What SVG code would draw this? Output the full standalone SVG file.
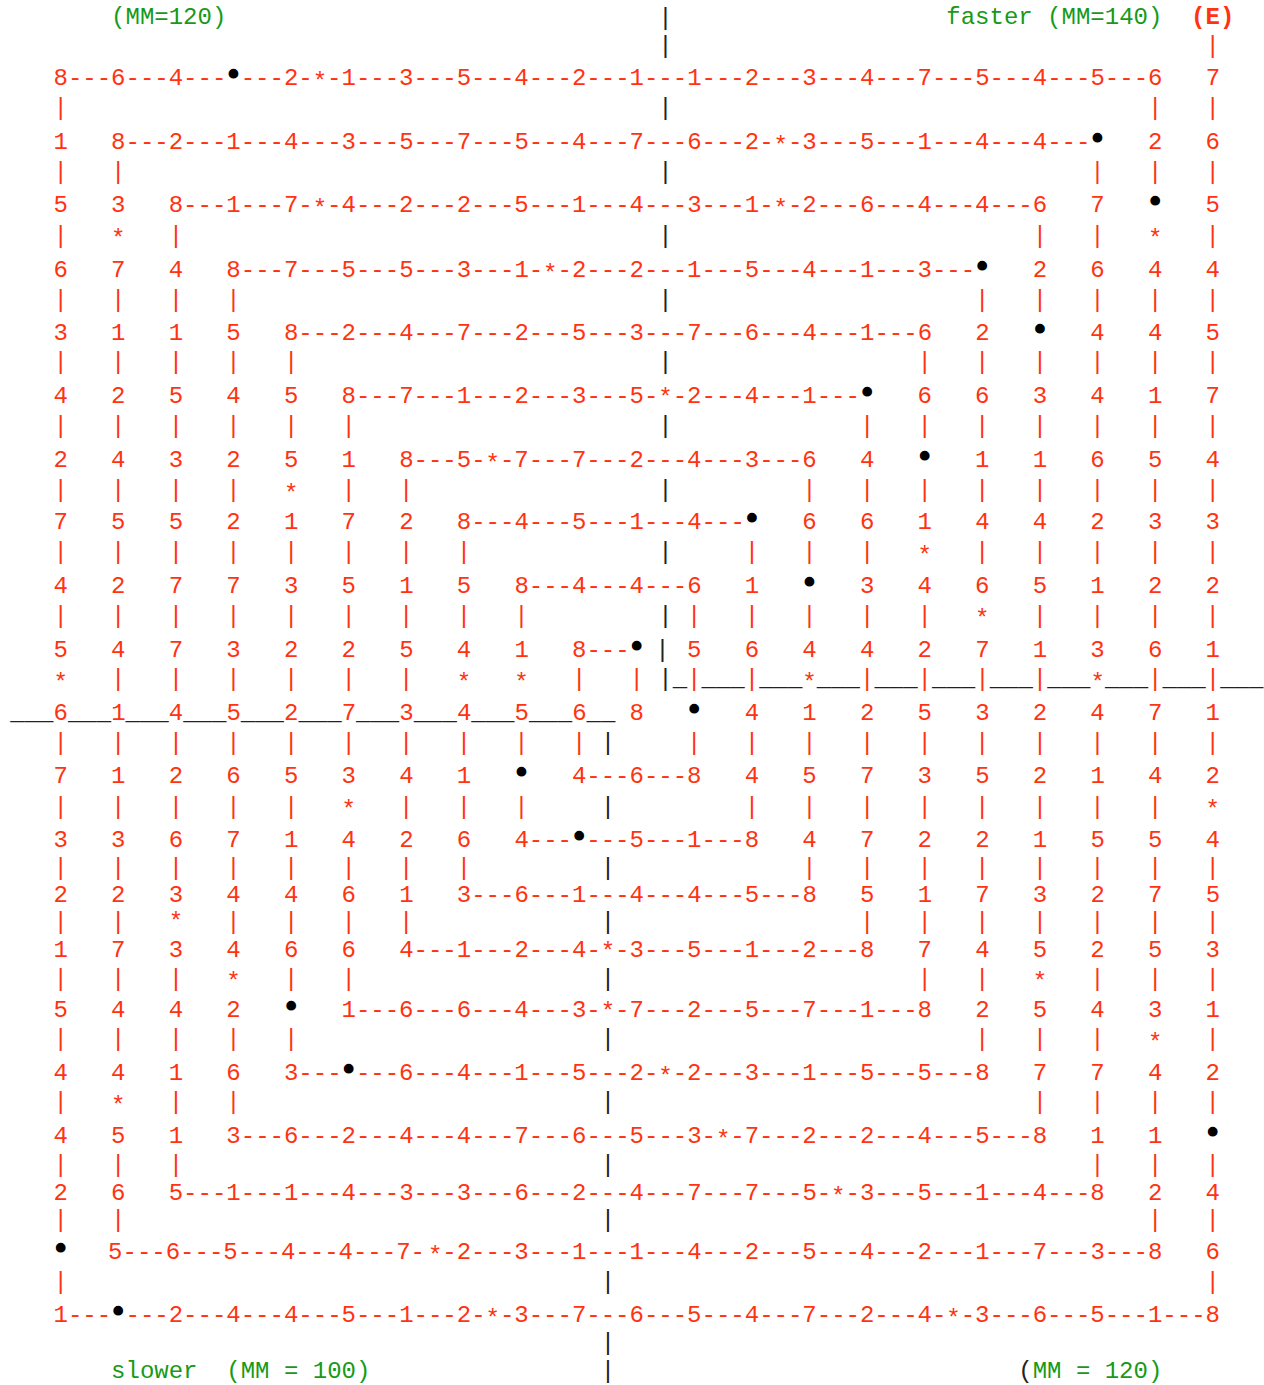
<svg xmlns="http://www.w3.org/2000/svg" width="1264" height="1385" viewBox="0 0 1264 1385">
<style>
.t{font-family:"Liberation Mono","Courier New",monospace;font-size:24px;white-space:pre}
.r{fill:#ff3311}
.k{fill:#222222}
.g{fill:#179a17}
.e{font-weight:bold}
.bu{fill:#000000;stroke:#000000;stroke-width:3.2;stroke-linejoin:round}
</style>
<rect width="1264" height="1385" fill="#ffffff"/>
<g id="header" xml:space="preserve">
<text class="t"><tspan class="g" x="111.1" y="24.3">(MM=120)</tspan><tspan class="k" x="658.3" y="25.3">|</tspan><tspan class="g" x="946.3" y="24.3">faster (MM=140)</tspan><tspan class="r e" x="1191.1" y="24.3">(E)</tspan></text>
</g>
<g id="spiral" xml:space="preserve">
<text class="t r"><tspan class="k" x="658.3" y="52.7">|</tspan><tspan x="1205.5" y="52.7">|</tspan></text>
<text class="t r"><tspan x="53.5" y="85">8---6---4---</tspan><tspan class="bu" x="226.3" y="82">•</tspan><tspan x="240.7" y="85">---2-</tspan><tspan x="312.7" y="89">*</tspan><tspan x="327.1" y="85">-1---3---5---4---2---1---1---2---3---4---7---5---4---5---6   7</tspan></text>
<text class="t r"><tspan x="53.5" y="115">|</tspan><tspan class="k" x="658.3" y="115">|</tspan><tspan x="1147.9 1205.5" y="115">||</tspan></text>
<text class="t r"><tspan x="53.5" y="149">1   8---2---1---4---3---5---7---5---4---7---6---2-</tspan><tspan x="773.5" y="153">*</tspan><tspan x="787.9" y="149">-3---5---1---4---4---</tspan><tspan class="bu" x="1090.3" y="146">•</tspan><tspan x="1147.9" y="149">2   6</tspan></text>
<text class="t r"><tspan x="53.5 111.1" y="178.7">||</tspan><tspan class="k" x="658.3" y="178.7">|</tspan><tspan x="1090.3 1147.9 1205.5" y="178.7">|||</tspan></text>
<text class="t r"><tspan x="53.5" y="212.3">5   3   8---1---7-</tspan><tspan x="312.7" y="216.3">*</tspan><tspan x="327.1" y="212.3">-4---2---2---5---1---4---3---1-</tspan><tspan x="773.5" y="216.3">*</tspan><tspan x="787.9" y="212.3">-2---6---4---4---6   7</tspan><tspan class="bu" x="1147.9" y="209.3">•</tspan><tspan x="1205.5" y="212.3">5</tspan></text>
<text class="t r"><tspan x="53.5" y="242.7">|</tspan><tspan x="111.1" y="246.2">*</tspan><tspan x="168.7" y="242.7">|</tspan><tspan class="k" x="658.3" y="242.7">|</tspan><tspan x="1032.7 1090.3" y="242.7">||</tspan><tspan x="1147.9" y="246.2">*</tspan><tspan x="1205.5" y="242.7">|</tspan></text>
<text class="t r"><tspan x="53.5" y="276.7">6   7   4   8---7---5---5---3---1-</tspan><tspan x="543.1" y="280.7">*</tspan><tspan x="557.5" y="276.7">-2---2---1---5---4---1---3---</tspan><tspan class="bu" x="975.1" y="273.7">•</tspan><tspan x="1032.7" y="276.7">2   6   4   4</tspan></text>
<text class="t r"><tspan x="53.5 111.1 168.7 226.3" y="306.7">||||</tspan><tspan class="k" x="658.3" y="306.7">|</tspan><tspan x="975.1 1032.7 1090.3 1147.9 1205.5" y="306.7">|||||</tspan></text>
<text class="t r"><tspan x="53.5" y="340">3   1   1   5   8---2---4---7---2---5---3---7---6---4---1---6   2</tspan><tspan class="bu" x="1032.7" y="337">•</tspan><tspan x="1090.3" y="340">4   4   5</tspan></text>
<text class="t r"><tspan x="53.5 111.1 168.7 226.3 283.9" y="369.3">|||||</tspan><tspan class="k" x="658.3" y="369.3">|</tspan><tspan x="917.5 975.1 1032.7 1090.3 1147.9 1205.5" y="369.3">||||||</tspan></text>
<text class="t r"><tspan x="53.5" y="403.3">4   2   5   4   5   8---7---1---2---3---5-</tspan><tspan x="658.3" y="405.3">*</tspan><tspan x="672.7" y="403.3">-2---4---1---</tspan><tspan class="bu" x="859.9" y="400.3">•</tspan><tspan x="917.5" y="403.3">6   6   3   4   1   7</tspan></text>
<text class="t r"><tspan x="53.5 111.1 168.7 226.3 283.9 341.5" y="432.7">||||||</tspan><tspan class="k" x="658.3" y="432.7">|</tspan><tspan x="859.9 917.5 975.1 1032.7 1090.3 1147.9 1205.5" y="432.7">|||||||</tspan></text>
<text class="t r"><tspan x="53.5" y="466.7">2   4   3   2   5   1   8---5-</tspan><tspan x="485.5" y="470.7">*</tspan><tspan x="499.9" y="466.7">-7---7---2---4---3---6   4</tspan><tspan class="bu" x="917.5" y="463.7">•</tspan><tspan x="975.1" y="466.7">1   1   6   5   4</tspan></text>
<text class="t r"><tspan x="53.5 111.1 168.7 226.3" y="497">||||</tspan><tspan x="283.9" y="500.5">*</tspan><tspan x="341.5 399.1" y="497">||</tspan><tspan class="k" x="658.3" y="497">|</tspan><tspan x="802.3 859.9 917.5 975.1 1032.7 1090.3 1147.9 1205.5" y="497">||||||||</tspan></text>
<text class="t r"><tspan x="53.5" y="529.3">7   5   5   2   1   7   2   8---4---5---1---4---</tspan><tspan class="bu" x="744.7" y="526.3">•</tspan><tspan x="802.3" y="529.3">6   6   1   4   4   2   3   3</tspan></text>
<text class="t r"><tspan x="53.5 111.1 168.7 226.3 283.9 341.5 399.1 456.7" y="559.3">||||||||</tspan><tspan class="k" x="658.3" y="559.3">|</tspan><tspan x="744.7 802.3 859.9" y="559.3">|||</tspan><tspan x="917.5" y="562.8">*</tspan><tspan x="975.1 1032.7 1090.3 1147.9 1205.5" y="559.3">|||||</tspan></text>
<text class="t r"><tspan x="53.5" y="593.3">4   2   7   7   3   5   1   5   8---4---4---6   1</tspan><tspan class="bu" x="802.3" y="590.3">•</tspan><tspan x="859.9" y="593.3">3   4   6   5   1   2   2</tspan></text>
<text class="t r"><tspan x="53.5 111.1 168.7 226.3 283.9 341.5 399.1 456.7 514.3" y="622.7">|||||||||</tspan><tspan class="k" x="658.3" y="622.7">|</tspan><tspan x="687.1 744.7 802.3 859.9 917.5" y="622.7">|||||</tspan><tspan x="975.1" y="626.2">*</tspan><tspan x="1032.7 1090.3 1147.9 1205.5" y="622.7">||||</tspan></text>
<text class="t r"><tspan x="53.5" y="657.3">5   4   7   3   2   2   5   4   1   8---</tspan><tspan class="bu" x="629.5" y="654.3">•</tspan><tspan class="k" x="655.3" y="657.3">|</tspan><tspan x="687.1" y="657.3">5   6   4   4   2   7   1   3   6   1</tspan></text>
<text class="t r"><tspan x="53.5" y="689.5">*</tspan><tspan x="111.1 168.7 226.3 283.9 341.5 399.1" y="686">||||||</tspan><tspan x="456.7 514.3" y="689.5">**</tspan><tspan x="571.9 629.5" y="686">||</tspan><tspan class="k" x="658.3" y="686">|_</tspan><tspan y="686">|</tspan><tspan class="k" y="686">___</tspan><tspan y="686">|</tspan><tspan class="k" y="686">___</tspan><tspan y="689.5">*</tspan><tspan class="k" y="686">___</tspan><tspan y="686">|</tspan><tspan class="k" y="686">___</tspan><tspan y="686">|</tspan><tspan class="k" y="686">___</tspan><tspan y="686">|</tspan><tspan class="k" y="686">___</tspan><tspan y="686">|</tspan><tspan class="k" y="686">___</tspan><tspan y="689.5">*</tspan><tspan class="k" y="686">___</tspan><tspan y="686">|</tspan><tspan class="k" y="686">___</tspan><tspan y="686">|</tspan><tspan class="k" y="686">___</tspan></text>
<text class="t r"><tspan class="k" x="10.3" y="720">___</tspan><tspan>6</tspan><tspan class="k">___</tspan><tspan>1</tspan><tspan class="k">___</tspan><tspan>4</tspan><tspan class="k">___</tspan><tspan>5</tspan><tspan class="k">___</tspan><tspan>2</tspan><tspan class="k">___</tspan><tspan>7</tspan><tspan class="k">___</tspan><tspan>3</tspan><tspan class="k">___</tspan><tspan>4</tspan><tspan class="k">___</tspan><tspan>5</tspan><tspan class="k">___</tspan><tspan>6</tspan><tspan class="k">__</tspan><tspan x="629.5" y="720">8</tspan><tspan class="bu" x="687.1" y="717">•</tspan><tspan x="744.7" y="720">4   1   2   5   3   2   4   7   1</tspan></text>
<text class="t r"><tspan x="53.5 111.1 168.7 226.3 283.9 341.5 399.1 456.7 514.3 571.9" y="750.3">||||||||||</tspan><tspan class="k" x="600.7" y="750.3">|</tspan><tspan x="687.1 744.7 802.3 859.9 917.5 975.1 1032.7 1090.3 1147.9 1205.5" y="750.3">||||||||||</tspan></text>
<text class="t r"><tspan x="53.5" y="783.3">7   1   2   6   5   3   4   1</tspan><tspan class="bu" x="514.3" y="780.3">•</tspan><tspan x="571.9" y="783.3">4---6---8   4   5   7   3   5   2   1   4   2</tspan></text>
<text class="t r"><tspan x="53.5 111.1 168.7 226.3 283.9" y="813.7">|||||</tspan><tspan x="341.5" y="817.2">*</tspan><tspan x="399.1 456.7 514.3" y="813.7">|||</tspan><tspan class="k" x="600.7" y="813.7">|</tspan><tspan x="744.7 802.3 859.9 917.5 975.1 1032.7 1090.3 1147.9" y="813.7">||||||||</tspan><tspan x="1205.5" y="817.2">*</tspan></text>
<text class="t r"><tspan x="53.5" y="847.3">3   3   6   7   1   4   2   6   4---</tspan><tspan class="bu" x="571.9" y="844.3">•</tspan><tspan x="586.3" y="847.3">---5---1---8   4   7   2   2   1   5   5   4</tspan></text>
<text class="t r"><tspan x="53.5 111.1 168.7 226.3 283.9 341.5 399.1 456.7" y="874.7">||||||||</tspan><tspan class="k" x="600.7" y="874.7">|</tspan><tspan x="802.3 859.9 917.5 975.1 1032.7 1090.3 1147.9 1205.5" y="874.7">||||||||</tspan></text>
<text class="t r"><tspan x="53.5" y="902">2   2   3   4   4   6   1   3---6---1---4---4---5---8   5   1   7   3   2   7   5</tspan></text>
<text class="t r"><tspan x="53.5 111.1" y="929.3">||</tspan><tspan x="168.7" y="929.3">*</tspan><tspan x="226.3 283.9 341.5 399.1" y="929.3">||||</tspan><tspan class="k" x="600.7" y="929.3">|</tspan><tspan x="859.9 917.5 975.1 1032.7 1090.3 1147.9 1205.5" y="929.3">|||||||</tspan></text>
<text class="t r"><tspan x="53.5" y="956.6">1   7   3   4   6   6   4---1---2---4-</tspan><tspan x="600.7" y="958.6">*</tspan><tspan x="615.1" y="956.6">-3---5---1---2---8   7   4   5   2   5   3</tspan></text>
<text class="t r"><tspan x="53.5 111.1 168.7" y="986">|||</tspan><tspan x="226.3" y="989">*</tspan><tspan x="283.9 341.5" y="986">||</tspan><tspan class="k" x="600.7" y="986">|</tspan><tspan x="917.5 975.1" y="986">||</tspan><tspan x="1032.7" y="989">*</tspan><tspan x="1090.3 1147.9 1205.5" y="986">|||</tspan></text>
<text class="t r"><tspan x="53.5" y="1016.7">5   4   4   2</tspan><tspan class="bu" x="283.9" y="1013.7">•</tspan><tspan x="341.5" y="1016.7">1---6---6---4---3-</tspan><tspan x="600.7" y="1018.7">*</tspan><tspan x="615.1" y="1016.7">-7---2---5---7---1---8   2   5   4   3   1</tspan></text>
<text class="t r"><tspan x="53.5 111.1 168.7 226.3 283.9" y="1046">|||||</tspan><tspan class="k" x="600.7" y="1046">|</tspan><tspan x="975.1 1032.7 1090.3" y="1046">|||</tspan><tspan x="1147.9" y="1049.5">*</tspan><tspan x="1205.5" y="1046">|</tspan></text>
<text class="t r"><tspan x="53.5" y="1080">4   4   1   6   3---</tspan><tspan class="bu" x="341.5" y="1077">•</tspan><tspan x="355.9" y="1080">---6---4---1---5---2-</tspan><tspan x="658.3" y="1084">*</tspan><tspan x="672.7" y="1080">-2---3---1---5---5---8   7   7   4   2</tspan></text>
<text class="t r"><tspan x="53.5" y="1109.3">|</tspan><tspan x="111.1" y="1112.8">*</tspan><tspan x="168.7 226.3" y="1109.3">||</tspan><tspan class="k" x="600.7" y="1109.3">|</tspan><tspan x="1032.7 1090.3 1147.9 1205.5" y="1109.3">||||</tspan></text>
<text class="t r"><tspan x="53.5" y="1143.3">4   5   1   3---6---2---4---4---7---6---5---3-</tspan><tspan x="715.9" y="1147.3">*</tspan><tspan x="730.3" y="1143.3">-7---2---2---4---5---8   1   1</tspan><tspan class="bu" x="1205.5" y="1140.3">•</tspan></text>
<text class="t r"><tspan x="53.5 111.1 168.7" y="1172.3">|||</tspan><tspan class="k" x="600.7" y="1172.3">|</tspan><tspan x="1090.3 1147.9 1205.5" y="1172.3">|||</tspan></text>
<text class="t r"><tspan x="53.5" y="1199.6">2   6   5---1---1---4---3---3---6---2---4---7---7---5-</tspan><tspan x="831.1" y="1203.6">*</tspan><tspan x="845.5" y="1199.6">-3---5---1---4---8   2   4</tspan></text>
<text class="t r"><tspan x="53.5 111.1" y="1227">||</tspan><tspan class="k" x="600.7" y="1227">|</tspan><tspan x="1147.9 1205.5" y="1227">||</tspan></text>
<text class="t r"><tspan class="bu" x="53.5" y="1256.3">•</tspan><tspan x="108.1" y="1259.3">5---6---5---4---4---7-</tspan><tspan x="427.9" y="1263.3">*</tspan><tspan x="442.3" y="1259.3">-2---3---1---1---4---2---5---4---2---1---7---3---8   6</tspan></text>
<text class="t r"><tspan x="53.5" y="1289.3">|</tspan><tspan class="k" x="600.7" y="1289.3">|</tspan><tspan x="1205.5" y="1289.3">|</tspan></text>
<text class="t r"><tspan x="53.5" y="1322.3">1---</tspan><tspan class="bu" x="111.1" y="1319.3">•</tspan><tspan x="125.5" y="1322.3">---2---4---4---5---1---2-</tspan><tspan x="485.5" y="1326.3">*</tspan><tspan x="499.9" y="1322.3">-3---7---6---5---4---7---2---4-</tspan><tspan x="946.3" y="1326.3">*</tspan><tspan x="960.7" y="1322.3">-3---6---5---1---8</tspan></text>
<text class="t k"><tspan x="600.7" y="1350.4">|</tspan></text>
</g>
<g id="footer" xml:space="preserve">
<text class="t"><tspan class="g" x="111.1" y="1377.7">slower  (MM = 100)</tspan><tspan class="k" x="600.7" y="1377.7">|</tspan><tspan class="k" x="1018.3" y="1377.7">(</tspan><tspan class="g" x="1032.7" y="1377.7">MM = 120)</tspan></text>
</g>
</svg>
